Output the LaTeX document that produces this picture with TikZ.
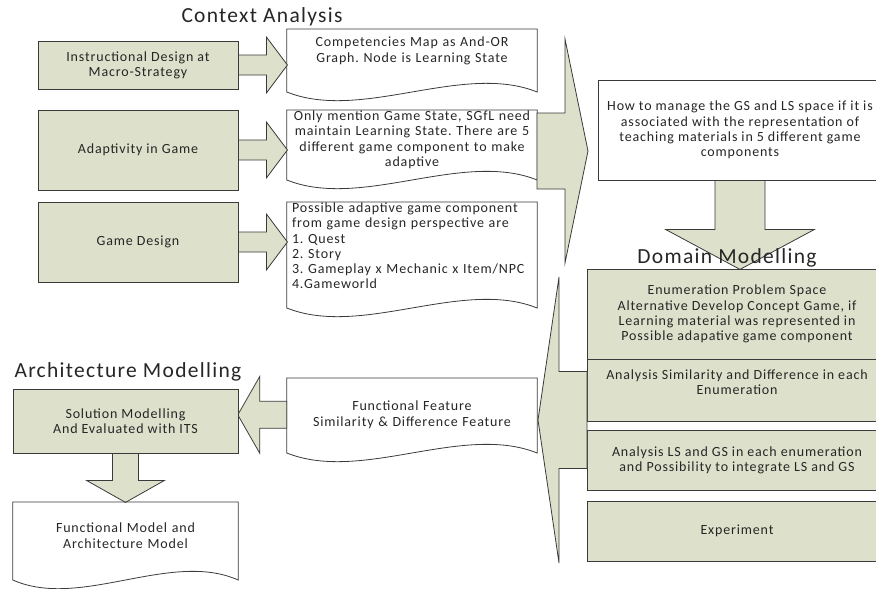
\documentclass[tikz,border=0pt]{standalone}
\usepackage{fontspec}
\setmainfont[LetterSpace=6]{Carlito}
\usetikzlibrary{calc}
\definecolor{boxgreen}{HTML}{DDE1CB}
\definecolor{edgegray}{HTML}{3A3A3A}
\frenchspacing
% block arrow: start, angle, length, shaft half width, head half width, head length
\newcommand{\blockarrow}[6]{%
  \begin{scope}[shift={#1},rotate=#2]
    \filldraw[arrowshape](0,-#4)--({#3-#6},-#4)--({#3-#6},-#5)--(#3,0)--({#3-#6},#5)--({#3-#6},#4)--(0,#4)--cycle;
  \end{scope}}
% document outline under a text node: node, side height
\newcommand{\docoutline}[2]{%
  \draw[docedge](#1.north west)--(#1.north east)--($(#1.north east)+(0,#2)$)
    ..controls($(#1.north east)!0.3!(#1.north west)+(0,#2-30)$)and($(#1.north east)!0.7!(#1.north west)+(0,#2+30)$)..($(#1.north west)+(0,#2)$)--cycle;}
\begin{document}
\begin{tikzpicture}[x=1pt,y=-1pt,
  every node/.style={font=\fontsize{14}{15.3}\selectfont,text=black!85},
  greenbox/.style={draw=edgegray,line width=0.8pt,fill=boxgreen,align=center,inner sep=2pt},
  whitebox/.style={draw=edgegray,line width=0.8pt,fill=white,align=center,inner sep=2pt},
  doctext/.style={anchor=north,inner xsep=4pt,align=center},
  docedge/.style={draw=edgegray,line width=0.8pt},
  arrowshape/.style={fill=boxgreen,draw=edgegray,line width=0.8pt,line join=miter},
  heading/.style={font=\fontsize{21.5}{24}\selectfont}]
    \useasboundingbox(0,0)rectangle(876,589);
    % context analysis
    \node[greenbox,minimum width=200,minimum height=48](instr) at (138,65){Instructional Design at\\Macro-Strategy};
    \node[greenbox,minimum width=200,minimum height=80](adapt) at (138,150){Adaptivity in Game};
    \node[greenbox,minimum width=200,minimum height=80](gdesign) at (138,242){Game Design};
    \node[doctext,text width=242,inner ysep=8](compmap) at (412,29){Competencies Map as And-OR\\Graph. Node is Learning State};
    \node[doctext,text width=242,inner ysep=0.5](gstate) at (412,110){Only mention Game State, SGfL need\\maintain Learning State. There are 5\\different game component to make\\adaptive};
    \node[doctext,text width=240,inner xsep=5,inner ysep=0.5,align=left](gcomp) at (412,202){\makebox[\linewidth][s]{Possible adaptive game component}\\from game design perspective are\\1. Quest\\2. Story\\3. Gameplay x Mechanic x Item/NPC\\4.Gameworld};
    \docoutline{compmap}{63}
    \docoutline{gstate}{70}
    \docoutline{gcomp}{106}
    \blockarrow{(instr.east)}{0}{49}{10}{28}{21}
    \blockarrow{(adapt.east)}{0}{49}{10}{28}{21}
    \blockarrow{(gdesign.east)}{0}{49}{10}{28}{21}
    \coordinate(docs) at (537,151);
    \blockarrow{(docs)}{0}{51}{38}{112}{23}
    \node[whitebox,minimum width=284,minimum height=100](manage) at (740,130){How to manage the GS and LS space if it is\\associated with the representation of\\teaching materials in 5 different game\\components};
    \blockarrow{(manage.south)}{-90}{89}{25}{74.5}{40}
    % domain modelling
    \node[heading](domtitle) at (727,258){Domain Modelling};
    \node[greenbox,minimum width=300,minimum height=90](enum) at (737,314){Enumeration Problem Space\\Alternative Develop Concept Game, if\\Learning material was represented in\\Possible adapative game component};
    \node[greenbox,minimum width=300,minimum height=62](simdiff) at (737,390){Analysis Similarity and Difference in each\\Enumeration\\\mbox{}};
    \node[greenbox,minimum width=300,minimum height=60](lsgs) at (737,460){Analysis LS and GS in each enumeration\\and Possibility to integrate LS and GS};
    \node[greenbox,minimum width=300,minimum height=60](exper) at (737,531){Experiment};
    \coordinate(stack) at (587,420);
    \blockarrow{(stack)}{180}{49}{48.5}{143}{21}
    % architecture modelling
    \node[doctext,text width=242,inner ysep=23](feature) at (412,378){Functional Feature\\Similarity \& Difference Feature};
    \docoutline{feature}{75}
    \blockarrow{(feature.west)}{180}{49}{13.5}{38.5}{22}
    \node[heading,anchor=west](archtitle) at (11,372){Architecture Modelling};
    \node[greenbox,minimum width=225,minimum height=64](solution) at (125.5,421){Solution Modelling\\And Evaluated with ITS};
    \blockarrow{(solution.south)}{-90}{49}{13}{39}{22}
    \node[doctext,text width=217,inner ysep=21](archmodel) at (125.5,502){Functional Model and\\Architecture Model};
    \docoutline{archmodel}{78}
    \node[heading](ctxtitle) at (262,17){Context Analysis};
\end{tikzpicture}
\end{document}
